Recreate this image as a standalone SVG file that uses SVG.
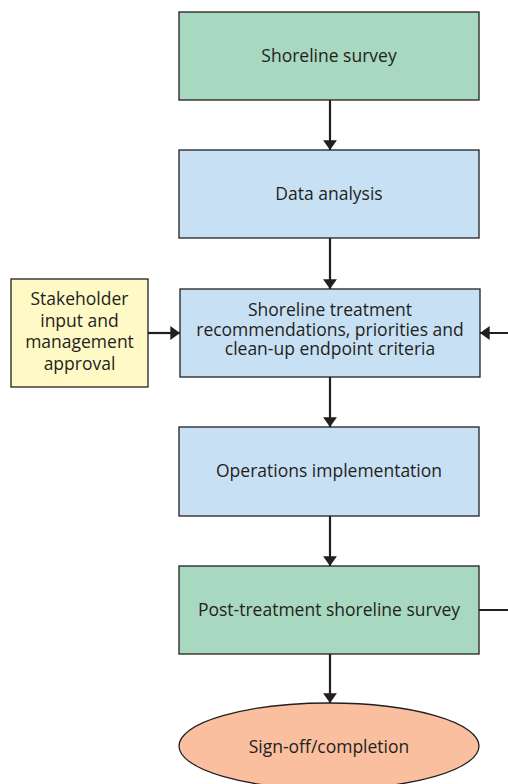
<svg xmlns="http://www.w3.org/2000/svg" width="508" height="784" viewBox="0 0 508 784">
<defs>
<style>
.box{stroke:#231f20;stroke-width:1.3}
.g{fill:#a8d8c0}.b{fill:#c8e0f4}.y{fill:#fff9c6}.o{fill:#f9bf9f}
text{font-family:"Open Sans","Noto Sans",sans-serif;font-size:17.5px;fill:#231f20;text-anchor:middle}
.c{fill:none;stroke:#231f20;stroke-width:2.2}
</style>
<marker id="ah" viewBox="0 0 7 10" refX="7" refY="5" markerWidth="4.4" markerHeight="6.4" markerUnits="strokeWidth" orient="auto">
<path d="M0,0 L7,5 L0,10 z" fill="#231f20"/>
</marker>
</defs>
<rect width="508" height="784" fill="#ffffff"/>
<g id="connectors">
<line class="c" x1="330" y1="100" x2="330" y2="150" marker-end="url(#ah)"/>
<line class="c" x1="330" y1="238" x2="330" y2="289" marker-end="url(#ah)"/>
<line class="c" x1="330" y1="377" x2="330" y2="427" marker-end="url(#ah)"/>
<line class="c" x1="330" y1="516" x2="330" y2="566" marker-end="url(#ah)"/>
<line class="c" x1="330" y1="654" x2="330" y2="703" marker-end="url(#ah)"/>
<line class="c" x1="148" y1="333" x2="180" y2="333" marker-end="url(#ah)"/>
<path class="c" d="M479,610 H514 V333 H480" marker-end="url(#ah)"/>
</g>
<g id="n1"><rect class="box g" x="179" y="12" width="300" height="88"/><text x="329" y="61.5">Shoreline survey</text></g>
<g id="n2"><rect class="box b" x="179" y="150" width="300" height="88"/><text x="329" y="199.5">Data analysis</text></g>
<g id="n3"><rect class="box b" x="180" y="289" width="300" height="88"/>
<text x="330" y="316">Shoreline treatment</text>
<text x="330" y="335.5">recommendations, priorities and</text>
<text x="330" y="355">clean-up endpoint criteria</text></g>
<g id="n0"><rect class="box y" x="11" y="279" width="137" height="108"/>
<text x="79.5" y="305">Stakeholder</text>
<text x="79.5" y="326.5">input and</text>
<text x="79.5" y="348">management</text>
<text x="79.5" y="369.5">approval</text></g>
<g id="n4"><rect class="box b" x="179" y="427" width="300" height="89"/><text x="329" y="477">Operations implementation</text></g>
<g id="n5"><rect class="box g" x="179" y="566" width="300" height="88"/><text x="329" y="615.5">Post-treatment shoreline survey</text></g>
<g id="n6"><ellipse class="box o" cx="329" cy="746" rx="150" ry="43"/><text x="329" y="753">Sign-off/completion</text></g>
</svg>
